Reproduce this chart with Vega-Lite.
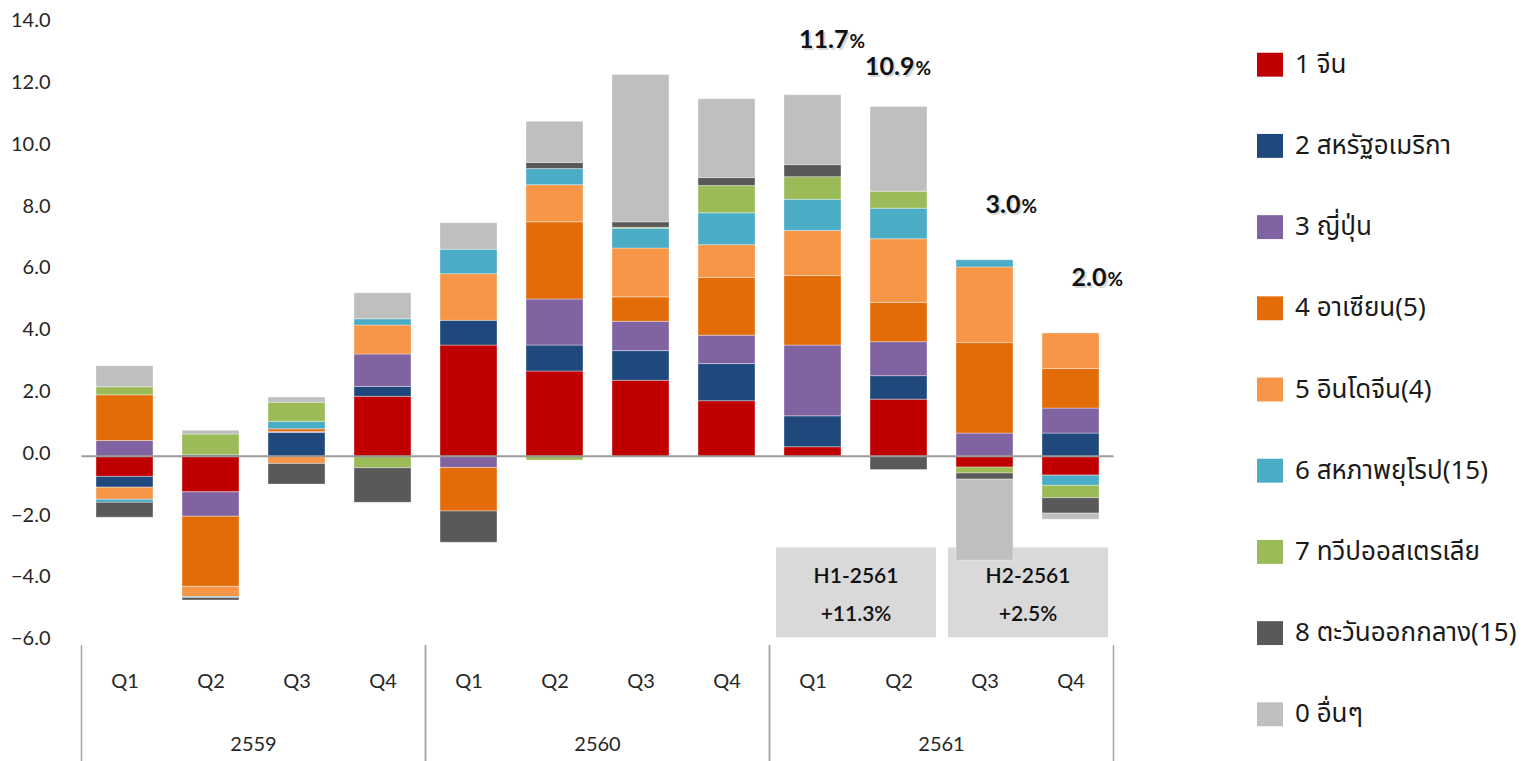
{
  "$schema": "https://vega.github.io/schema/vega-lite/v6.json",
  "autosize": {"type": "none"},
  "width": 1032,
  "height": 618,
  "padding": {"left": 81.5, "top": 23.7, "right": 426.5, "bottom": 119.3},
  "background": "#ffffff",
  "config": {
    "view": {"stroke": null},
    "font": "Lato, Noto Sans Thai, Loma, Garuda, Noto Sans, sans-serif",
    "axisY": {"labelFontSize": 20, "labelColor": "#262626", "labelPadding": 31.5, "labelOffset": -3, "ticks": false, "tickSize": 0, "domain": false, "grid": false, "labelFont": "Lato, Noto Sans, sans-serif"},
    "axisX": {"labelFontSize": 20, "labelColor": "#262626", "labelPadding": 30, "ticks": false, "tickSize": 0, "domain": false, "grid": false, "labelFont": "Lato, Noto Sans, sans-serif"}
  },
  "datasets": {
    "growth": [
      {"yr": "2559", "q": "Q1", "t": 1, "k": 1, "v": -0.65}, {"yr": "2559", "q": "Q1", "t": 1, "k": 2, "v": -0.35}, {"yr": "2559", "q": "Q1", "t": 1, "k": 3, "v": 0.51}, {"yr": "2559", "q": "Q1", "t": 1, "k": 4, "v": 1.48}, {"yr": "2559", "q": "Q1", "t": 1, "k": 5, "v": -0.39}, {"yr": "2559", "q": "Q1", "t": 1, "k": 6, "v": -0.10}, {"yr": "2559", "q": "Q1", "t": 1, "k": 7, "v": 0.26}, {"yr": "2559", "q": "Q1", "t": 1, "k": 8, "v": -0.48}, {"yr": "2559", "q": "Q1", "t": 1, "k": 9, "v": 0.68},
      {"yr": "2559", "q": "Q2", "t": 2, "k": 1, "v": -1.15}, {"yr": "2559", "q": "Q2", "t": 2, "k": 2, "v": 0.05}, {"yr": "2559", "q": "Q2", "t": 2, "k": 3, "v": -0.79}, {"yr": "2559", "q": "Q2", "t": 2, "k": 4, "v": -2.27}, {"yr": "2559", "q": "Q2", "t": 2, "k": 5, "v": -0.33}, {"yr": "2559", "q": "Q2", "t": 2, "k": 6, "v": -0.03}, {"yr": "2559", "q": "Q2", "t": 2, "k": 7, "v": 0.67}, {"yr": "2559", "q": "Q2", "t": 2, "k": 8, "v": -0.08}, {"yr": "2559", "q": "Q2", "t": 2, "k": 9, "v": 0.12},
      {"yr": "2559", "q": "Q3", "t": 3, "k": 2, "v": 0.77}, {"yr": "2559", "q": "Q3", "t": 3, "k": 3, "v": 0.03}, {"yr": "2559", "q": "Q3", "t": 3, "k": 4, "v": 0.09}, {"yr": "2559", "q": "Q3", "t": 3, "k": 5, "v": -0.23}, {"yr": "2559", "q": "Q3", "t": 3, "k": 6, "v": 0.24}, {"yr": "2559", "q": "Q3", "t": 3, "k": 7, "v": 0.62}, {"yr": "2559", "q": "Q3", "t": 3, "k": 8, "v": -0.67}, {"yr": "2559", "q": "Q3", "t": 3, "k": 9, "v": 0.17},
      {"yr": "2559", "q": "Q4", "t": 4, "k": 1, "v": 1.94}, {"yr": "2559", "q": "Q4", "t": 4, "k": 2, "v": 0.32}, {"yr": "2559", "q": "Q4", "t": 4, "k": 3, "v": 1.05}, {"yr": "2559", "q": "Q4", "t": 4, "k": 5, "v": 0.94}, {"yr": "2559", "q": "Q4", "t": 4, "k": 6, "v": 0.20}, {"yr": "2559", "q": "Q4", "t": 4, "k": 7, "v": -0.37}, {"yr": "2559", "q": "Q4", "t": 4, "k": 8, "v": -1.12}, {"yr": "2559", "q": "Q4", "t": 4, "k": 9, "v": 0.84},
      {"yr": "2560", "q": "Q1", "t": 5, "k": 1, "v": 3.60}, {"yr": "2560", "q": "Q1", "t": 5, "k": 2, "v": 0.80}, {"yr": "2560", "q": "Q1", "t": 5, "k": 3, "v": -0.36}, {"yr": "2560", "q": "Q1", "t": 5, "k": 4, "v": -1.41}, {"yr": "2560", "q": "Q1", "t": 5, "k": 5, "v": 1.51}, {"yr": "2560", "q": "Q1", "t": 5, "k": 6, "v": 0.79}, {"yr": "2560", "q": "Q1", "t": 5, "k": 8, "v": -1.01}, {"yr": "2560", "q": "Q1", "t": 5, "k": 9, "v": 0.86},
      {"yr": "2560", "q": "Q2", "t": 6, "k": 1, "v": 2.76}, {"yr": "2560", "q": "Q2", "t": 6, "k": 2, "v": 0.84}, {"yr": "2560", "q": "Q2", "t": 6, "k": 3, "v": 1.49}, {"yr": "2560", "q": "Q2", "t": 6, "k": 4, "v": 2.50}, {"yr": "2560", "q": "Q2", "t": 6, "k": 5, "v": 1.20}, {"yr": "2560", "q": "Q2", "t": 6, "k": 6, "v": 0.52}, {"yr": "2560", "q": "Q2", "t": 6, "k": 7, "v": -0.12}, {"yr": "2560", "q": "Q2", "t": 6, "k": 8, "v": 0.20}, {"yr": "2560", "q": "Q2", "t": 6, "k": 9, "v": 1.33},
      {"yr": "2560", "q": "Q3", "t": 7, "k": 1, "v": 2.46}, {"yr": "2560", "q": "Q3", "t": 7, "k": 2, "v": 0.96}, {"yr": "2560", "q": "Q3", "t": 7, "k": 3, "v": 0.95}, {"yr": "2560", "q": "Q3", "t": 7, "k": 4, "v": 0.79}, {"yr": "2560", "q": "Q3", "t": 7, "k": 5, "v": 1.58}, {"yr": "2560", "q": "Q3", "t": 7, "k": 6, "v": 0.64}, {"yr": "2560", "q": "Q3", "t": 7, "k": 7, "v": 0.03}, {"yr": "2560", "q": "Q3", "t": 7, "k": 8, "v": 0.18}, {"yr": "2560", "q": "Q3", "t": 7, "k": 9, "v": 4.77},
      {"yr": "2560", "q": "Q4", "t": 8, "k": 1, "v": 1.80}, {"yr": "2560", "q": "Q4", "t": 8, "k": 2, "v": 1.20}, {"yr": "2560", "q": "Q4", "t": 8, "k": 3, "v": 0.92}, {"yr": "2560", "q": "Q4", "t": 8, "k": 4, "v": 1.87}, {"yr": "2560", "q": "Q4", "t": 8, "k": 5, "v": 1.06}, {"yr": "2560", "q": "Q4", "t": 8, "k": 6, "v": 1.03}, {"yr": "2560", "q": "Q4", "t": 8, "k": 7, "v": 0.88}, {"yr": "2560", "q": "Q4", "t": 8, "k": 8, "v": 0.26}, {"yr": "2560", "q": "Q4", "t": 8, "k": 9, "v": 2.55},
      {"yr": "2561", "q": "Q1", "t": 9, "k": 1, "v": 0.31}, {"yr": "2561", "q": "Q1", "t": 9, "k": 2, "v": 1.00}, {"yr": "2561", "q": "Q1", "t": 9, "k": 3, "v": 2.29}, {"yr": "2561", "q": "Q1", "t": 9, "k": 4, "v": 2.25}, {"yr": "2561", "q": "Q1", "t": 9, "k": 5, "v": 1.46}, {"yr": "2561", "q": "Q1", "t": 9, "k": 6, "v": 1.01}, {"yr": "2561", "q": "Q1", "t": 9, "k": 7, "v": 0.73}, {"yr": "2561", "q": "Q1", "t": 9, "k": 8, "v": 0.39}, {"yr": "2561", "q": "Q1", "t": 9, "k": 9, "v": 2.26},
      {"yr": "2561", "q": "Q2", "t": 10, "k": 1, "v": 1.85}, {"yr": "2561", "q": "Q2", "t": 10, "k": 2, "v": 0.76}, {"yr": "2561", "q": "Q2", "t": 10, "k": 3, "v": 1.10}, {"yr": "2561", "q": "Q2", "t": 10, "k": 4, "v": 1.27}, {"yr": "2561", "q": "Q2", "t": 10, "k": 5, "v": 2.06}, {"yr": "2561", "q": "Q2", "t": 10, "k": 6, "v": 0.99}, {"yr": "2561", "q": "Q2", "t": 10, "k": 7, "v": 0.55}, {"yr": "2561", "q": "Q2", "t": 10, "k": 8, "v": -0.43}, {"yr": "2561", "q": "Q2", "t": 10, "k": 9, "v": 2.74},
      {"yr": "2561", "q": "Q3", "t": 11, "k": 1, "v": -0.35}, {"yr": "2561", "q": "Q3", "t": 11, "k": 3, "v": 0.75}, {"yr": "2561", "q": "Q3", "t": 11, "k": 4, "v": 2.93}, {"yr": "2561", "q": "Q3", "t": 11, "k": 5, "v": 2.45}, {"yr": "2561", "q": "Q3", "t": 11, "k": 6, "v": 0.23}, {"yr": "2561", "q": "Q3", "t": 11, "k": 7, "v": -0.19}, {"yr": "2561", "q": "Q3", "t": 11, "k": 8, "v": -0.20}, {"yr": "2561", "q": "Q3", "t": 11, "k": 9, "v": -2.62},
      {"yr": "2561", "q": "Q4", "t": 12, "k": 1, "v": -0.61}, {"yr": "2561", "q": "Q4", "t": 12, "k": 2, "v": 0.75}, {"yr": "2561", "q": "Q4", "t": 12, "k": 3, "v": 0.81}, {"yr": "2561", "q": "Q4", "t": 12, "k": 4, "v": 1.28}, {"yr": "2561", "q": "Q4", "t": 12, "k": 5, "v": 1.15}, {"yr": "2561", "q": "Q4", "t": 12, "k": 6, "v": -0.33}, {"yr": "2561", "q": "Q4", "t": 12, "k": 7, "v": -0.40}, {"yr": "2561", "q": "Q4", "t": 12, "k": 8, "v": -0.50}, {"yr": "2561", "q": "Q4", "t": 12, "k": 9, "v": -0.20}
    ],
    "regions": [
      {"k": 1, "region": "1 จีน"},
      {"k": 2, "region": "2 สหรัฐอเมริกา"},
      {"k": 3, "region": "3 ญี่ปุ่น"},
      {"k": 4, "region": "4 อาเซียน(5)"},
      {"k": 5, "region": "5 อินโดจีน(4)"},
      {"k": 6, "region": "6 สหภาพยุโรป(15)"},
      {"k": 7, "region": "7 ทวีปออสเตรเลีย"},
      {"k": 8, "region": "8 ตะวันออกกลาง(15)"},
      {"k": 9, "region": "0 อื่นๆ"}
    ],
    "years": [
      {"yr": "2559", "t": 1, "t2": 4},
      {"yr": "2560", "t": 5, "t2": 8},
      {"yr": "2561", "t": 9, "t2": 12}
    ],
    "halves": [
      {"half": "H1-2561", "g": "+11.3%", "t": 9, "t2": 10},
      {"half": "H2-2561", "g": "+2.5%", "t": 11, "t2": 12}
    ],
    "totals": [
      {"t": 9, "net": "11.7", "top": 11.70},
      {"t": 10, "net": "10.9", "top": 11.32},
      {"t": 11, "net": "3.0", "top": 6.36},
      {"t": 12, "net": "2.0", "top": 3.99}
    ]
  },
  "encoding": {
    "x": {
      "field": "t", "type": "quantitative",
      "scale": {"domain": [0.5, 12.5], "nice": false, "zero": false, "padding": 0},
      "axis": {"title": null, "values": [1,2,3,4,5,6,7,8,9,10,11,12], "labelExpr": "'Q' + ((datum.value - 1) % 4 + 1)"}
    }
  },
  "layer": [
    {
      "data": {"name": "halves"},
      "mark": {"type": "rect", "color": "#D9D9D9", "xOffset": -36.5, "x2Offset": 37.5},
      "encoding": {
        "x2": {"field": "t2"},
        "y": {"datum": -2.95, "type": "quantitative", "scale": {"domain": [-6, 14], "nice": false, "zero": false}, "axis": {"title": null, "values": [-6,-4,-2,0,2,4,6,8,10,12,14], "format": ".1f"}},
        "y2": {"datum": -5.86}
      }
    },
    {
      "data": {"name": "growth"},
      "transform": [{"lookup": "k", "from": {"data": {"name": "regions"}, "key": "k", "fields": ["region"]}}],
      "mark": {"type": "bar", "size": 57, "stroke": "#ffffff", "strokeWidth": 0.6, "strokeOpacity": 0.6},
      "encoding": {
        "y": {"field": "v", "type": "quantitative", "stack": "zero",
              "scale": {"domain": [-6, 14], "nice": false, "zero": false},
              "axis": {"title": null, "values": [-6,-4,-2,0,2,4,6,8,10,12,14], "format": ".1f"}},
        "color": {
          "field": "region", "type": "nominal",
          "scale": {
            "domain": ["1 จีน", "2 สหรัฐอเมริกา", "3 ญี่ปุ่น", "4 อาเซียน(5)", "5 อินโดจีน(4)", "6 สหภาพยุโรป(15)", "7 ทวีปออสเตรเลีย", "8 ตะวันออกกลาง(15)", "0 อื่นๆ"],
            "range": ["#C00000", "#1F497D", "#8064A2", "#E36C09", "#F79646", "#4BACC6", "#9BBB59", "#595959", "#BFBFBF"]
          },
          "legend": {
            "title": null, "orient": "none", "legendX": 1175.5, "legendY": 28,
            "symbolType": "M-1,-0.92H1V0.92H-1Z", "symbolSize": 676, "symbolStrokeWidth": 0, "symbolOpacity": 1,
            "labelFontSize": 26, "labelColor": "#1a1a1a", "labelOffset": 12, "rowPadding": 55.2, "padding": 0,
            "labelLimit": 400,
            "labelFont": "Noto Sans Thai, Loma, Garuda, Noto Sans, sans-serif"
          }
        },
        "order": {"field": "k", "type": "quantitative", "sort": "ascending"}
      }
    },
    {
      "data": {"values": [{}]},
      "mark": {"type": "rule", "color": "#9A9A9A", "strokeWidth": 2},
      "encoding": {
        "x": null,
        "y": {"datum": 0, "type": "quantitative", "scale": {"domain": [-6, 14], "nice": false, "zero": false}, "axis": {"title": null, "values": [-6,-4,-2,0,2,4,6,8,10,12,14], "format": ".1f"}}
      }
    },
    {
      "data": {"name": "years"},
      "mark": {"type": "rule", "color": "#A6A6A6", "strokeWidth": 1.5, "xOffset": -43},
      "encoding": {
        "y": {"datum": -6.11, "type": "quantitative", "scale": {"domain": [-6, 14], "nice": false, "zero": false}, "axis": {"title": null, "values": [-6,-4,-2,0,2,4,6,8,10,12,14], "format": ".1f"}},
        "y2": {"datum": -10}
      }
    },
    {
      "data": {"name": "years"},
      "mark": {"type": "rule", "color": "#A6A6A6", "strokeWidth": 1.5, "xOffset": 43},
      "encoding": {
        "x": {"field": "t2", "type": "quantitative"},
        "y": {"datum": -6.11, "type": "quantitative", "scale": {"domain": [-6, 14], "nice": false, "zero": false}, "axis": {"title": null, "values": [-6,-4,-2,0,2,4,6,8,10,12,14], "format": ".1f"}},
        "y2": {"datum": -10}
      }
    },
    {
      "data": {"name": "years"},
      "mark": {"type": "text", "dx": 129, "fontSize": 20, "color": "#262626", "baseline": "middle", "align": "center"},
      "encoding": {
        "y": {"datum": -9.33, "type": "quantitative", "scale": {"domain": [-6, 14], "nice": false, "zero": false}, "axis": {"title": null, "values": [-6,-4,-2,0,2,4,6,8,10,12,14], "format": ".1f"}},
        "text": {"field": "yr"}
      }
    },
    {
      "data": {"name": "halves"},
      "mark": {"type": "text", "dx": 43.5, "fontSize": 21, "fontWeight": 600, "color": "#111111", "baseline": "middle", "align": "center"},
      "encoding": {
        "y": {"datum": -3.9, "type": "quantitative", "scale": {"domain": [-6, 14], "nice": false, "zero": false}, "axis": {"title": null, "values": [-6,-4,-2,0,2,4,6,8,10,12,14], "format": ".1f"}},
        "text": {"field": "half"}
      }
    },
    {
      "data": {"name": "halves"},
      "mark": {"type": "text", "dx": 43.5, "fontSize": 21, "fontWeight": 600, "color": "#111111", "baseline": "middle", "align": "center"},
      "encoding": {
        "y": {"datum": -5.13, "type": "quantitative", "scale": {"domain": [-6, 14], "nice": false, "zero": false}, "axis": {"title": null, "values": [-6,-4,-2,0,2,4,6,8,10,12,14], "format": ".1f"}},
        "text": {"field": "g"}
      }
    },
    {
      "data": {"name": "totals"},
      "transform": [{"filter": "datum.t != 10"}],
      "mark": {"type": "text", "dx": 38, "dy": -45, "fontSize": 25, "fontWeight": "bold", "color": "#000000", "opacity": 0.15, "baseline": "alphabetic", "align": "right"},
      "encoding": {
        "y": {"field": "top", "type": "quantitative", "scale": {"domain": [-6, 14], "nice": false, "zero": false}, "axis": {"title": null, "values": [-6,-4,-2,0,2,4,6,8,10,12,14], "format": ".1f"}},
        "text": {"field": "net"}
      }
    },
    {
      "data": {"name": "totals"},
      "transform": [{"filter": "datum.t != 10"}],
      "mark": {"type": "text", "dx": 36, "dy": -47, "fontSize": 25, "fontWeight": "bold", "color": "#111111", "baseline": "alphabetic", "align": "right"},
      "encoding": {
        "y": {"field": "top", "type": "quantitative", "scale": {"domain": [-6, 14], "nice": false, "zero": false}, "axis": {"title": null, "values": [-6,-4,-2,0,2,4,6,8,10,12,14], "format": ".1f"}},
        "text": {"field": "net"}
      }
    },
    {
      "data": {"name": "totals"},
      "transform": [{"filter": "datum.t != 10"}],
      "mark": {"type": "text", "dx": 37, "dy": -47, "fontSize": 19, "fontWeight": "bold", "color": "#111111", "baseline": "alphabetic", "align": "left"},
      "encoding": {
        "y": {"field": "top", "type": "quantitative", "scale": {"domain": [-6, 14], "nice": false, "zero": false}, "axis": {"title": null, "values": [-6,-4,-2,0,2,4,6,8,10,12,14], "format": ".1f"}},
        "text": {"value": "%"}
      }
    },
    {
      "data": {"name": "totals"},
      "transform": [{"filter": "datum.t == 10"}],
      "mark": {"type": "text", "dx": 18, "dy": -30, "fontSize": 25, "fontWeight": "bold", "color": "#000000", "opacity": 0.15, "baseline": "alphabetic", "align": "right"},
      "encoding": {
        "y": {"field": "top", "type": "quantitative", "scale": {"domain": [-6, 14], "nice": false, "zero": false}, "axis": {"title": null, "values": [-6,-4,-2,0,2,4,6,8,10,12,14], "format": ".1f"}},
        "text": {"field": "net"}
      }
    },
    {
      "data": {"name": "totals"},
      "transform": [{"filter": "datum.t == 10"}],
      "mark": {"type": "text", "dx": 16, "dy": -32, "fontSize": 25, "fontWeight": "bold", "color": "#111111", "baseline": "alphabetic", "align": "right"},
      "encoding": {
        "y": {"field": "top", "type": "quantitative", "scale": {"domain": [-6, 14], "nice": false, "zero": false}, "axis": {"title": null, "values": [-6,-4,-2,0,2,4,6,8,10,12,14], "format": ".1f"}},
        "text": {"field": "net"}
      }
    },
    {
      "data": {"name": "totals"},
      "transform": [{"filter": "datum.t == 10"}],
      "mark": {"type": "text", "dx": 17, "dy": -32, "fontSize": 19, "fontWeight": "bold", "color": "#111111", "baseline": "alphabetic", "align": "left"},
      "encoding": {
        "y": {"field": "top", "type": "quantitative", "scale": {"domain": [-6, 14], "nice": false, "zero": false}, "axis": {"title": null, "values": [-6,-4,-2,0,2,4,6,8,10,12,14], "format": ".1f"}},
        "text": {"value": "%"}
      }
    }
  ]
}
